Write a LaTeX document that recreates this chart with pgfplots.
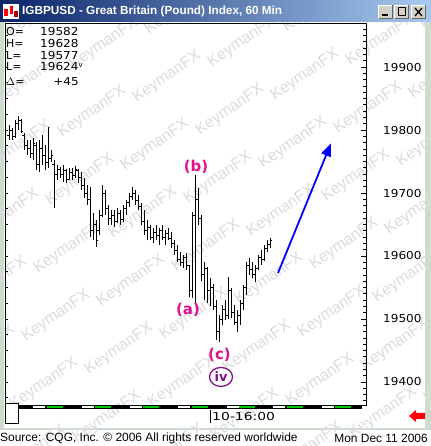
\documentclass[border=0pt]{standalone}
\usepackage{pgfplots}
\pgfplotsset{compat=1.18}
\usepackage{pgfplotstable}
\usepackage{fontspec}
\usepackage{graphicx}
\setmainfont{Liberation Sans}
\newfontfamily\dv{DejaVu Sans}
\usetikzlibrary{arrows.meta}

\definecolor{frame}{RGB}{206,220,206}
\definecolor{tbdark}{RGB}{10,36,106}
\definecolor{tblight}{RGB}{166,202,240}
\definecolor{btn}{RGB}{212,208,200}
\definecolor{pinkc}{RGB}{226,16,140}
\definecolor{purplec}{RGB}{128,16,140}
\definecolor{tgreen}{RGB}{0,200,0}
\definecolor{wm}{RGB}{220,220,220}

\pgfdeclareplotmark{ohlcL}{\pgfpathmoveto{\pgfqpoint{-1.6bp}{0pt}}\pgfpathlineto{\pgfqpoint{0pt}{0pt}}\pgfusepathqstroke}
\pgfdeclareplotmark{ohlcR}{\pgfpathmoveto{\pgfqpoint{0pt}{0pt}}\pgfpathlineto{\pgfqpoint{1.6bp}{0pt}}\pgfusepathqstroke}

\pgfplotstableread{
x o h l c
9 19792 19808 19784 19800
12 19800 19803 19784 19790
15 19790 19816 19788 19810
18 19810 19822 19800 19815
21 19815 19818 19795 19798
24 19792 19795 19768 19775
27 19775 19784 19760 19770
30 19770 19784 19756 19762
33 19762 19787 19752 19778
36 19775 19781 19737 19745
39 19745 19784 19733 19770
42 19770 19792 19744 19760
45 19760 19776 19737 19748
48 19748 19805 19740 19755
51 19755 19768 19750 19760
54 19745 19752 19676 19730
57 19730 19744 19720 19738
60 19738 19742 19724 19730
63 19730 19744 19717 19735
66 19735 19738 19716 19722
69 19722 19740 19720 19732
72 19732 19740 19720 19728
75 19728 19743 19724 19738
78 19735 19738 19716 19725
81 19725 19733 19705 19712
84 19712 19724 19692 19700
87 19700 19713 19681 19690
90 19690 19710 19630 19640
93 19640 19668 19625 19650
96 19650 19657 19614 19625
99 19640 19673 19633 19665
102 19665 19713 19662 19700
105 19700 19705 19665 19675
108 19675 19681 19649 19660
111 19660 19673 19649 19665
114 19665 19673 19646 19655
117 19655 19676 19652 19668
120 19668 19673 19649 19658
123 19658 19681 19654 19675
126 19675 19689 19665 19685
129 19685 19700 19678 19695
132 19695 19710 19689 19700
135 19700 19705 19681 19688
138 19688 19697 19673 19678
141 19678 19684 19649 19655
144 19655 19673 19633 19640
147 19640 19657 19625 19645
150 19645 19649 19625 19630
153 19630 19644 19621 19638
156 19638 19649 19625 19632
159 19632 19644 19617 19640
162 19640 19649 19625 19630
165 19630 19641 19617 19635
168 19635 19644 19625 19628
171 19628 19638 19613 19620
174 19620 19625 19602 19608
177 19608 19617 19590 19595
180 19595 19606 19584 19590
183 19590 19602 19581 19598
186 19598 19605 19578 19585
189 19585 19586 19535 19545
192 19545 19670 19533 19665
195 19665 19729 19525 19690
198 19690 19708 19650 19660
201 19660 19665 19560 19570
204 19570 19590 19530 19580
207 19580 19583 19525 19545
210 19545 19565 19520 19550
213 19550 19555 19515 19520
216 19520 19530 19467 19480
219 19480 19506 19463 19500
222 19500 19522 19490 19515
225 19515 19530 19498 19505
228 19505 19567 19500 19545
231 19545 19550 19502 19510
234 19510 19522 19490 19495
237 19495 19514 19479 19505
240 19505 19530 19490 19525
243 19525 19554 19514 19550
246 19550 19590 19538 19585
249 19585 19597 19570 19578
252 19578 19590 19565 19570
255 19570 19586 19559 19580
258 19580 19602 19578 19598
261 19598 19610 19586 19595
264 19595 19617 19592 19612
267 19612 19625 19606 19618
270 19618 19628 19612 19624
}\bars

\newcommand{\digfont}{\dv\fontsize{11}{13}\selectfont}

\begin{document}
\begin{tikzpicture}
\path[use as bounding box] (0bp,0bp) rectangle (431bp,446bp);
\begin{scope}[x=1bp,y=1bp]
% window frame
\fill[frame] (0,0) rectangle (431,446);
\fill[white] (4,18) rectangle (425,424);
\fill[white] (0,0) rectangle (431,16);
% watermark
\begin{scope}
\clip (0,0) rectangle (431,424);
\foreach \i in {-4,...,6}{
  \foreach \j in {-5,...,9}{
    \node[rotate=35, text=wm, font=\fontsize{16}{16}\selectfont, inner sep=0pt]
      at ({155+75*\i-12*\j},{446-(145-35*\i+68*\j)}) {KeymanFX};
  }
}
\end{scope}
\end{scope}

\begin{axis}[
  at={(5bp,40bp)}, anchor=south west,
  width=361bp, height=382bp, scale only axis,
  xmin=5, xmax=366, ymin=19361.9, ymax=19968.3,
  axis line style={black, line width=1bp},
  xtick=\empty,
  ytick={19400,19500,...,19900},
  minor ytick={19370,19380,...,19960},
  ytick pos=right, yticklabel pos=right,
  tick align=inside,
  major tick length=5bp, minor tick length=3bp,
  tick style={black, line width=0.8bp},
  scaled y ticks=false,
  /pgf/number format/1000 sep={},
  /pgf/number format/assume math mode=true,
  yticklabel={\scalebox{1.1}[1]{\pgfmathprintnumber[fixed,precision=0,1000 sep={}]{\tick}}},
  yticklabel style={font=\digfont, anchor=west, inner sep=0pt, xshift=17bp},
  clip=false,
]
\addplot[draw=none, mark=none, forget plot,
  error bars/.cd, y dir=plus, y explicit, error mark=none,
  error bar style={draw=black, line width=1bp}]
  table[x=x, y=l, y error expr=\thisrow{h}-\thisrow{l}] {\bars};
\addplot[draw=none, mark=ohlcL, mark options={draw=black, line width=1bp}] table[x=x, y=o] {\bars};
\addplot[draw=none, mark=ohlcR, mark options={draw=black, line width=1bp}] table[x=x, y=c] {\bars};

\draw[blue, line width=1.8bp, -{Triangle[length=13bp,width=10bp]}] (axis cs:278,19573) -- (axis cs:331,19779);

\node[text=pinkc, font=\dv\bfseries\fontsize{15}{15}\selectfont] at (axis cs:196,19741) {(b)};
\node[text=pinkc, font=\dv\bfseries\fontsize{15}{15}\selectfont] at (axis cs:188,19514) {(a)};
\node[text=pinkc, font=\dv\bfseries\fontsize{15}{15}\selectfont] at (axis cs:219.5,19443) {(c)};
\draw[purplec, line width=1.3bp] (axis cs:221,19408) ellipse [x radius=11.5bp, y radius=9.5bp];
\node[text=purplec, font=\dv\bfseries\fontsize{13}{13}\selectfont] at (axis cs:221,19408) {iv};
\end{axis}

% left ticks
\begin{axis}[
  at={(5bp,40bp)}, anchor=south west,
  width=361bp, height=382bp, scale only axis,
  xmin=5, xmax=366, ymin=19361.9, ymax=19968.3,
  axis line style={draw=none},
  xtick=\empty,
  ytick={19375,19400,...,19950},
  yticklabels={},
  scaled y ticks=false,
  ytick pos=left, tick align=inside,
  major tick length=3bp,
  tick style={black, line width=0.8bp},
]
\end{axis}

\begin{scope}[x=1bp,y=1bp]
% O H L box
\node[anchor=west, inner sep=0pt, font=\digfont] at (6,446-31.7) {O=};
\node[anchor=west, inner sep=0pt, font=\digfont] at (6,446-44) {H=};
\node[anchor=west, inner sep=0pt, font=\digfont] at (6,446-55.3) {L=};
\node[anchor=west, inner sep=0pt, font=\digfont] at (6,446-66.7) {L=};
\node[anchor=west, inner sep=0pt, font=\digfont] at (6,446-81.7) {$\Delta$=};
\node[anchor=west, inner sep=0pt, font=\digfont] at (40,446-31.7) {\scalebox{1.1}[1]{19582}};
\node[anchor=west, inner sep=0pt, font=\digfont] at (40,446-44) {\scalebox{1.1}[1]{19628}};
\node[anchor=west, inner sep=0pt, font=\digfont] at (40,446-55.3) {\scalebox{1.1}[1]{19577}};
\node[anchor=west, inner sep=0pt, font=\digfont] at (40,446-66.7) {\scalebox{1.1}[1]{19624}\raisebox{3bp}{\fontsize{7}{7}\selectfont v}};
\node[anchor=east, inner sep=0pt, font=\digfont] at (79,446-81.7) {\scalebox{1.1}[1]{+45}};

% time bar
\fill[black] (18,37) rectangle (362,41);
\foreach \s in {33.3,81.7,130,178.3,226.7,273.3,321.7}{\fill[white] (\s,38) rectangle ({\s+12},40);}
\foreach \s in {46.7,95,143.3,191.7,239.3,287.3,335}{\fill[tgreen] (\s,38) rectangle ({\s+16},40);}
\draw[black, fill=white, line width=1bp] (5,22) rectangle (18,42);
\draw[black, line width=1bp] (210,446-410) -- (210,446-423);
\node[anchor=west, inner sep=0pt, font=\digfont] at (212,446-416.5) {\scalebox{1.27}[1]{10-16:00}};
\fill[red] (409,446-416) -- (416,446-410) -- (416,446-413) -- (425,446-413) -- (425,446-419) -- (416,446-419) -- (416,446-422) -- cycle;

% footer
\node[anchor=west, inner sep=0pt, font=\fontsize{12}{14}\selectfont] at (0,8) {Source: CQG, Inc. \textcopyright{} 2006 All rights reserved worldwide};
\node[anchor=east, inner sep=0pt, font=\fontsize{12}{14}\selectfont] at (428,8) {Mon Dec 11 2006};

% title bar
\shade[left color=tbdark, right color=tblight] (0,424) rectangle (431,446);
\fill[white] (3,427) rectangle (19,442);
\fill[red] (4,430) rectangle (8,437);
\fill[red] (10,432) rectangle (13,440);
\fill[red!70!black] (14,429) rectangle (18,435);
\node[anchor=west, inner sep=0pt, text=white, font=\bfseries\fontsize{11.8}{13}\selectfont] at (22,434.5) {IGBPUSD - Great Britain (Pound) Index, 60 Min};
\foreach \bx in {378,394,411}{
  \fill[btn] (\bx,427) rectangle ({\bx+15},441);
  \draw[white, line width=1bp] (\bx+0.5,427.5) -- (\bx+0.5,440.5) -- ({\bx+14.5},440.5);
  \draw[black!60, line width=1bp] (\bx+0.5,427.5) -- ({\bx+14.5},427.5) -- ({\bx+14.5},440.5);
}
\fill[black] (382,430) rectangle (388,432);
\draw[black, line width=1bp] (398,430) rectangle (405,438);
\draw[black, line width=1.3bp] (415,430) -- (422,438) (415,438) -- (422,430);
\end{scope}
\end{tikzpicture}
\end{document}
